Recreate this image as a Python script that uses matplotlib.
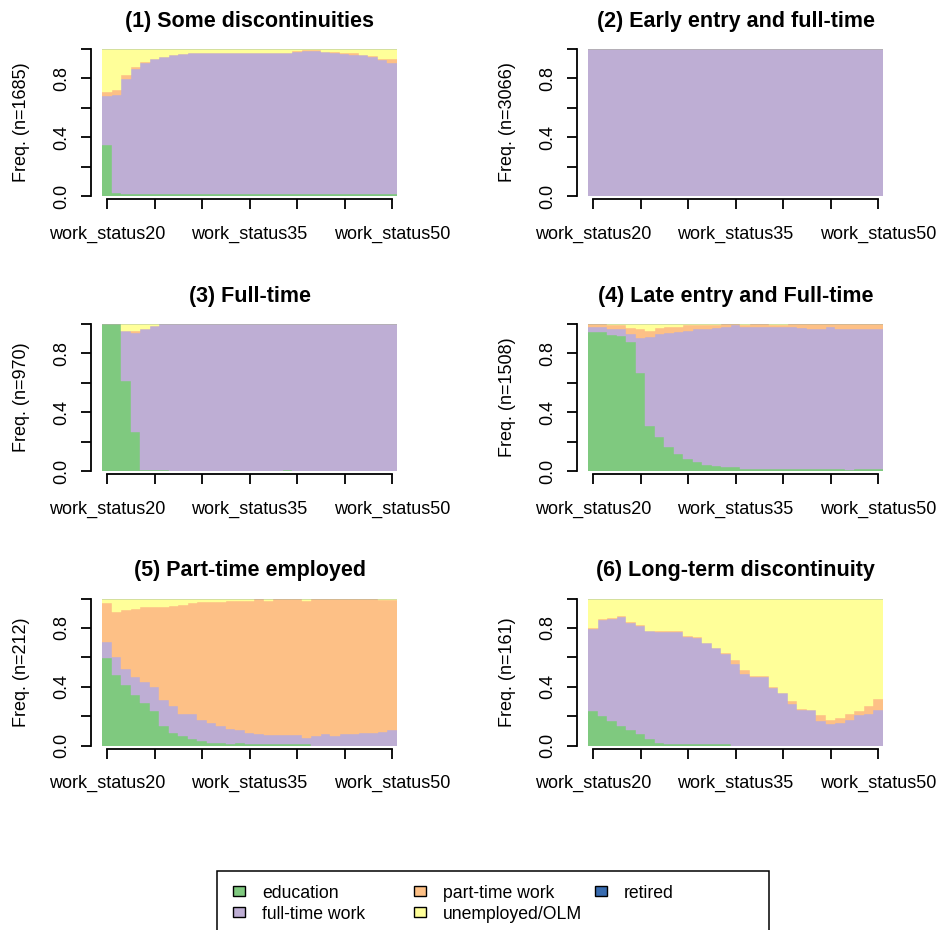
import numpy as np
import matplotlib
matplotlib.use("Agg")
import matplotlib.pyplot as plt
from matplotlib.patches import Rectangle

plt.rcParams['font.family'] = ['Liberation Sans', 'DejaVu Sans']

W, H = 941, 930  # figure size in pixels (dpi 100)

# sequence positions (columns of the state sequence object)
ages = list(range(20, 51))
col_labels = [f"work_status{a}" for a in ages]

states = ["education", "full-time work", "part-time work", "unemployed/OLM", "retired"]
colors = ["#7FC97F", "#BEAED4", "#FDC086", "#FFFF99", "#386CB0"]

titles = ["(1) Some discontinuities", "(2) Early entry and full-time", "(3) Full-time",
          "(4) Late entry and Full-time", "(5) Part-time employed", "(6) Long-term discontinuity"]
n_seq = [1685, 3066, 970, 1508, 212, 161]

# state shares per column
p1_edu = [0.350, 0.020, 0.012, 0.012, 0.012, 0.012, 0.012, 0.012, 0.012, 0.012,
          0.012, 0.012, 0.012, 0.012, 0.012, 0.012, 0.012, 0.012, 0.012, 0.012,
          0.012, 0.012, 0.012, 0.012, 0.012, 0.012, 0.012, 0.012, 0.012, 0.012, 0.012]
p1_full = [0.330, 0.670, 0.786, 0.854, 0.895, 0.918, 0.934, 0.945, 0.956, 0.960,
           0.963, 0.963, 0.963, 0.963, 0.963, 0.963, 0.963, 0.963, 0.963, 0.963,
           0.965, 0.976, 0.976, 0.965, 0.963, 0.956, 0.950, 0.945, 0.934, 0.913, 0.895]
p1_part = [0.029, 0.030, 0.023, 0.009, 0.005, 0.003, 0.002, 0.001, 0.001, 0.001,
           0.001, 0.001, 0.001, 0.001, 0.001, 0.001, 0.001, 0.001, 0.001, 0.001,
           0.011, 0.002, 0.002, 0.003, 0.002, 0.007, 0.008, 0.005, 0.009, 0.010, 0.023]
p1_unemp = [0.293, 0.281, 0.179, 0.125, 0.088, 0.067, 0.052, 0.042, 0.031, 0.027,
            0.024, 0.024, 0.024, 0.024, 0.024, 0.024, 0.024, 0.024, 0.024, 0.024,
            0.012, 0.010, 0.010, 0.020, 0.023, 0.025, 0.030, 0.038, 0.045, 0.065, 0.070]

p2_edu = [0.0] * 31
p2_full = [1.0] * 31
p2_part = [0.0] * 31
p2_unemp = [0.0] * 31

p3_edu = [1.000, 1.000, 0.610, 0.266, 0.010, 0.010, 0.005, 0.000, 0.000, 0.000,
          0.000, 0.000, 0.000, 0.000, 0.000, 0.000, 0.000, 0.000, 0.000, 0.010,
          0.000, 0.000, 0.000, 0.000, 0.000, 0.000, 0.000, 0.000, 0.000, 0.000, 0.000]
p3_full = [0.000, 0.000, 0.340, 0.673, 0.958, 0.974, 0.995, 1.000, 1.000, 1.000,
           1.000, 1.000, 1.000, 1.000, 1.000, 1.000, 1.000, 1.000, 1.000, 0.990,
           1.000, 1.000, 1.000, 1.000, 1.000, 1.000, 1.000, 1.000, 1.000, 1.000, 1.000]
p3_part = [0.000, 0.000, 0.000, 0.011, 0.000, 0.000, 0.000, 0.000, 0.000, 0.000,
           0.000, 0.000, 0.000, 0.000, 0.000, 0.000, 0.000, 0.000, 0.000, 0.000,
           0.000, 0.000, 0.000, 0.000, 0.000, 0.000, 0.000, 0.000, 0.000, 0.000, 0.000]
p3_unemp = [0.000, 0.000, 0.050, 0.050, 0.032, 0.016, 0.000, 0.000, 0.000, 0.000,
            0.000, 0.000, 0.000, 0.000, 0.000, 0.000, 0.000, 0.000, 0.000, 0.000,
            0.000, 0.000, 0.000, 0.000, 0.000, 0.000, 0.000, 0.000, 0.000, 0.000, 0.000]

p4_edu = [0.948, 0.943, 0.925, 0.918, 0.880, 0.665, 0.308, 0.228, 0.163, 0.118,
          0.081, 0.059, 0.038, 0.036, 0.027, 0.025, 0.016, 0.014, 0.014, 0.014,
          0.014, 0.014, 0.014, 0.014, 0.014, 0.014, 0.014, 0.005, 0.012, 0.012, 0.012]
p4_full = [0.032, 0.037, 0.041, 0.048, 0.050, 0.241, 0.602, 0.702, 0.777, 0.827,
           0.874, 0.907, 0.930, 0.937, 0.953, 0.970, 0.964, 0.968, 0.966, 0.966,
           0.966, 0.966, 0.959, 0.952, 0.952, 0.966, 0.952, 0.961, 0.954, 0.954, 0.954]
p4_part = [0.020, 0.020, 0.029, 0.029, 0.040, 0.059, 0.045, 0.040, 0.038, 0.037,
           0.035, 0.024, 0.027, 0.022, 0.018, 0.005, 0.015, 0.018, 0.018, 0.015,
           0.015, 0.020, 0.027, 0.034, 0.034, 0.020, 0.034, 0.034, 0.034, 0.034, 0.034]
p4_unemp = [0.000, 0.000, 0.005, 0.005, 0.030, 0.035, 0.045, 0.030, 0.022, 0.018,
            0.010, 0.010, 0.005, 0.005, 0.002, 0.000, 0.005, 0.000, 0.002, 0.005,
            0.005, 0.000, 0.000, 0.000, 0.000, 0.000, 0.000, 0.000, 0.000, 0.000, 0.000]

p5_edu = [0.595, 0.482, 0.414, 0.345, 0.289, 0.232, 0.132, 0.086, 0.064, 0.041,
          0.030, 0.018, 0.018, 0.011, 0.018, 0.011, 0.011, 0.011, 0.011, 0.011,
          0.011, 0.011, 0.000, 0.000, 0.000, 0.000, 0.000, 0.000, 0.000, 0.000, 0.000]
p5_full = [0.110, 0.120, 0.109, 0.121, 0.143, 0.166, 0.179, 0.180, 0.152, 0.175,
           0.145, 0.134, 0.112, 0.103, 0.089, 0.073, 0.064, 0.062, 0.062, 0.062,
           0.062, 0.041, 0.064, 0.075, 0.064, 0.075, 0.075, 0.084, 0.084, 0.095, 0.107]
p5_part = [0.261, 0.307, 0.397, 0.461, 0.507, 0.545, 0.632, 0.684, 0.739, 0.750,
           0.798, 0.821, 0.843, 0.866, 0.875, 0.898, 0.920, 0.909, 0.922, 0.922,
           0.922, 0.930, 0.931, 0.920, 0.931, 0.920, 0.920, 0.911, 0.911, 0.893, 0.881]
p5_unemp = [0.034, 0.091, 0.080, 0.073, 0.061, 0.057, 0.057, 0.050, 0.045, 0.034,
            0.027, 0.027, 0.027, 0.020, 0.018, 0.018, 0.005, 0.018, 0.005, 0.005,
            0.005, 0.018, 0.005, 0.005, 0.005, 0.005, 0.005, 0.005, 0.005, 0.012, 0.012]

p6_edu = [0.233, 0.199, 0.164, 0.130, 0.107, 0.075, 0.041, 0.018, 0.011, 0.011,
          0.011, 0.011, 0.011, 0.011, 0.011, 0.000, 0.000, 0.000, 0.000, 0.000,
          0.000, 0.000, 0.000, 0.000, 0.000, 0.000, 0.000, 0.000, 0.000, 0.000, 0.000]
p6_full = [0.559, 0.653, 0.699, 0.744, 0.726, 0.740, 0.735, 0.751, 0.758, 0.758,
           0.726, 0.720, 0.685, 0.651, 0.612, 0.553, 0.484, 0.468, 0.468, 0.393,
           0.354, 0.285, 0.244, 0.240, 0.167, 0.144, 0.153, 0.171, 0.205, 0.212, 0.244]
p6_part = [0.007, 0.009, 0.005, 0.010, 0.005, 0.007, 0.005, 0.007, 0.007, 0.007,
           0.010, 0.006, 0.004, 0.000, 0.009, 0.029, 0.030, 0.007, 0.007, 0.002,
           0.004, 0.019, 0.007, 0.004, 0.038, 0.027, 0.034, 0.041, 0.030, 0.057, 0.071]
p6_unemp = [0.201, 0.139, 0.132, 0.116, 0.162, 0.178, 0.219, 0.224, 0.224, 0.224,
            0.253, 0.263, 0.300, 0.338, 0.368, 0.418, 0.486, 0.525, 0.525, 0.605,
            0.642, 0.696, 0.749, 0.756, 0.795, 0.829, 0.813, 0.788, 0.765, 0.731, 0.685]

retired = [0.0] * 31

panels = [
    [p1_edu, p1_full, p1_part, p1_unemp, retired],
    [p2_edu, p2_full, p2_part, p2_unemp, retired],
    [p3_edu, p3_full, p3_part, p3_unemp, retired],
    [p4_edu, p4_full, p4_part, p4_unemp, retired],
    [p5_edu, p5_full, p5_part, p5_unemp, retired],
    [p6_edu, p6_full, p6_part, p6_unemp, retired],
]


def px_box(left, top, width, height):
    """pixel box (from top-left) -> figure fraction rect"""
    return [left / W, 1 - (top + height) / H, width / W, height / H]


fig = plt.figure(figsize=(W / 100, H / 100), dpi=100)

col_left = [102.3, 588.3]
row_top = [49, 324, 598.5]
bar_w, bar_h = 294.6, 147

x = np.arange(len(ages))
tick_pos = x[::5] + 0.5
tick_lab = [col_labels[i] if i % 15 == 0 else "" for i in range(0, len(ages), 5)]

for k, shares in enumerate(panels):
    r, c = divmod(k, 2)
    ax = fig.add_axes(px_box(col_left[c], row_top[r], bar_w, bar_h))

    data = np.array(shares, dtype=float)
    data = data / data.sum(axis=0)  # per-column proportions
    bottom = np.zeros(len(ages))
    for s in range(len(states)):
        ax.bar(x, data[s], bottom=bottom, width=1.0, align='edge',
               color=colors[s], edgecolor=colors[s], linewidth=0.3)
        bottom += data[s]

    ax.set_xlim(0, len(ages))
    ax.set_ylim(0, 1)

    ax.spines['top'].set_visible(False)
    ax.spines['right'].set_visible(False)
    ax.spines['left'].set_position(('outward', 8.4))
    ax.spines['bottom'].set_position(('outward', 2.4))
    ax.spines['left'].set_bounds(0, 1)
    ax.spines['bottom'].set_bounds(tick_pos[0], tick_pos[-1])
    for sp in ('left', 'bottom'):
        ax.spines[sp].set_linewidth(1.3)

    ax.set_xticks(tick_pos)
    ax.set_xticklabels(tick_lab)
    ax.set_yticks([0, 0.2, 0.4, 0.6, 0.8, 1.0])
    ax.set_yticklabels(["0.0", "", "0.4", "", "0.8", ""])
    ax.tick_params(axis='both', length=7, width=1.3, labelsize=13, colors='black')
    ax.tick_params(axis='x', pad=12)
    ax.tick_params(axis='y', pad=8)
    for lab in ax.get_yticklabels():
        lab.set_rotation(90)
        lab.set_va('center')
        lab.set_ha('right')

    ax.set_ylabel(f"Freq. (n={n_seq[k]})", fontsize=13)
    ax.yaxis.set_label_coords(-0.245, 0.5)
    ax.set_title(titles[k], fontsize=15.5, fontweight='bold', pad=16)

# legend box (R style: equal column widths, box runs off the bottom edge)
fig.add_artist(Rectangle((217 / W, 1 - 945 / H), (769 - 217) / W, (945 - 871) / H,
                         transform=fig.transFigure, facecolor='none',
                         edgecolor='black', linewidth=1.1))
sw_x = [233, 414, 595]
row_y = [891, 912]
for i, (lab, col) in enumerate(zip(states, colors)):
    cx, ry = divmod(i, 2)
    fig.add_artist(Rectangle((sw_x[cx] / W, 1 - (row_y[ry] + 5) / H), 12 / W, 10 / H,
                             transform=fig.transFigure, facecolor=col,
                             edgecolor='black', linewidth=1.0))
    fig.text((sw_x[cx] + 29) / W, 1 - (row_y[ry] + 2) / H, lab, fontsize=12.7,
             va='center', ha='left')

fig.savefig("out.png", dpi=100)
